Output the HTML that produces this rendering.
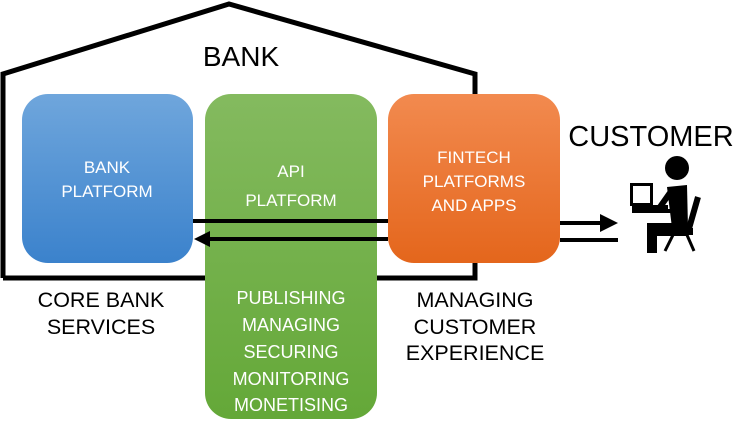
<!DOCTYPE html>
<html><head><style>
body{margin:0;width:754px;height:437px;background:#fff;overflow:hidden;font-family:"Liberation Sans",sans-serif}
</style></head><body>
<svg width="754" height="437" viewBox="0 0 754 437" xmlns="http://www.w3.org/2000/svg">
<defs>
<linearGradient id="gb" x1="0" y1="0" x2="0" y2="1"><stop offset="0" stop-color="#6fa6dc"/><stop offset="1" stop-color="#3b82cc"/></linearGradient>
<linearGradient id="gg" x1="0" y1="0" x2="0" y2="1"><stop offset="0" stop-color="#84ba5f"/><stop offset="1" stop-color="#64a838"/></linearGradient>
<linearGradient id="go" x1="0" y1="0" x2="0" y2="1"><stop offset="0" stop-color="#f28a4f"/><stop offset="1" stop-color="#e4661c"/></linearGradient>
</defs>
<polyline points="3,278 3,74 229,4 475,74 475,278 3,278" fill="none" stroke="#000" stroke-width="5" stroke-linejoin="miter"/>
<text x="241" y="66" font-size="28" text-anchor="middle" font-family="Liberation Sans">BANK</text>
<rect x="22" y="94" width="171" height="169" rx="26" fill="url(#gb)"/>
<rect x="205" y="94" width="172" height="325" rx="26" fill="url(#gg)"/>
<rect x="388" y="94" width="172" height="169" rx="26" fill="url(#go)"/>
<g fill="#fff" font-size="17" text-anchor="middle" font-family="Liberation Sans">
<text x="107" y="173">BANK</text><text x="107" y="197">PLATFORM</text>
<text x="291" y="177">API</text><text x="291" y="206">PLATFORM</text>
<text x="474" y="163">FINTECH</text><text x="474" y="187">PLATFORMS</text><text x="474" y="211">AND APPS</text>
</g>
<g fill="#fff" font-size="18" text-anchor="middle" font-family="Liberation Sans">
<text x="291" y="304">PUBLISHING</text><text x="291" y="331">MANAGING</text><text x="291" y="358">SECURING</text><text x="291" y="385">MONITORING</text><text x="291" y="411">MONETISING</text>
</g>
<g fill="#000" font-size="21.5" text-anchor="middle" font-family="Liberation Sans">
<text x="101" y="307">CORE BANK</text><text x="101" y="334">SERVICES</text>
<text x="475" y="307">MANAGING</text><text x="475" y="334">CUSTOMER</text><text x="475" y="360">EXPERIENCE</text>
</g>
<g stroke="#000" stroke-width="4">
<line x1="193" y1="221" x2="388" y2="221"/>
<line x1="207" y1="239" x2="388" y2="239"/>
<line x1="560" y1="223" x2="606" y2="223"/>
<line x1="560" y1="240" x2="618" y2="240"/>
</g>
<polygon points="194,239 210,231 210,247" fill="#000"/>
<polygon points="618,223 600,214 600,232" fill="#000"/>
<text x="651" y="146" font-size="29" text-anchor="middle" font-family="Liberation Sans">CUSTOMER</text>
<g fill="#000" stroke="#000">
<circle cx="677" cy="168" r="12" stroke="none"/>
<rect x="631.5" y="184.5" width="20" height="20" fill="none" stroke-width="3"/>
<rect x="632" y="205" width="36" height="4" stroke="none"/>
<rect x="632" y="209" width="40" height="4" stroke="none"/>
<path d="M667,187 L687,185 L688,228 L672,228 Z" stroke="none"/>
<line x1="672" y1="190" x2="660" y2="207" stroke-width="6"/>
<rect x="647" y="223" width="41" height="13" stroke="none"/>
<rect x="647" y="223" width="10" height="30" stroke="none"/>
<line x1="698" y1="197" x2="688" y2="232" stroke-width="6"/>
<rect x="667" y="228" width="26" height="7" stroke="none"/>
<line x1="673" y1="235" x2="665" y2="251" stroke-width="3"/>
<line x1="687" y1="235" x2="694" y2="251" stroke-width="3"/>
</g>
</svg>
</body></html>
